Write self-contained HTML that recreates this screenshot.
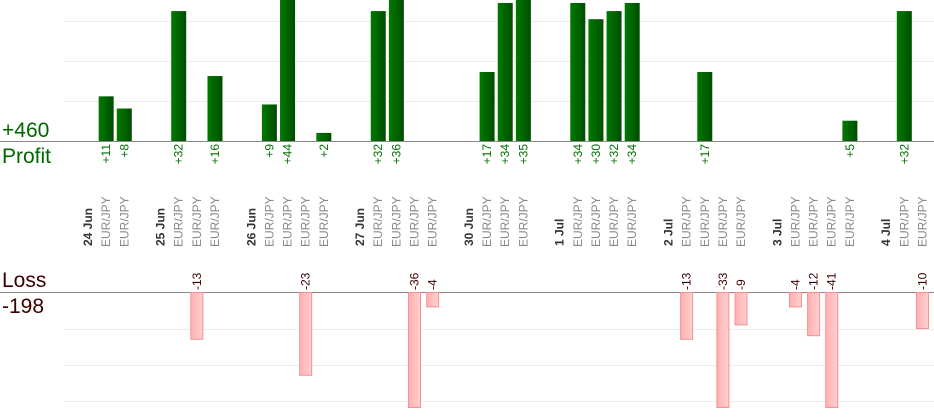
<!DOCTYPE html>
<html><head><meta charset="utf-8">
<style>
html,body{margin:0;padding:0;background:#fff;}
svg{display:block;font-family:"Liberation Sans",sans-serif;}
</style></head>
<body>
<svg id="chart" width="934" height="420" viewBox="0 0 934 420">
<defs>
<linearGradient id="gg" x1="0" x2="1"><stop offset="0" stop-color="#007a00"/><stop offset="1" stop-color="#004d00"/></linearGradient>
<linearGradient id="rg" x1="0" x2="1"><stop offset="0" stop-color="#ffb0b0"/><stop offset="1" stop-color="#ffd0d0"/></linearGradient>
</defs>
<g id="grid"></g>
<line x1="0" y1="141.5" x2="934" y2="141.5" stroke="#888" stroke-width="1"/>
<line x1="0" y1="292.5" x2="934" y2="292.5" stroke="#888" stroke-width="1"/>
<text x="2" y="137" font-size="21" fill="#006600">+460</text>
<text x="2" y="163" font-size="21" fill="#006600">Profit</text>
<text x="2" y="287" font-size="21" fill="#3a0000">Loss</text>
<text x="2" y="313" font-size="21" fill="#3a0000">-198</text>
<g id="marks"></g>
</svg>
<script>
// slot kinds: "d" = date label, "t" = trade, "g" = gap
const slotKinds = ["d","t","t","g","d","t","t","t","g","d","t","t","t","t","g","d","t","t","t","t","g","d","t","t","t","g","d","t","t","t","t","g","d","t","t","t","t","g","d","t","t","t","t","g","d","t","t"];
const dateLabels = ["24 Jun","25 Jun","26 Jun","27 Jun","30 Jun","1 Jul","2 Jul","3 Jul","4 Jul"];
const tradeValues = [11,8, 32,-13,16, 9,44,-23,2, 32,36,-36,-4, 17,34,35, 34,30,32,34, -13,17,-33,-9, -4,-12,-41,5, 32,-10];
const tradeSymbol = "EUR/JPY";

const NS="http://www.w3.org/2000/svg";
const svg=document.getElementById('marks');
const grid=document.getElementById('grid');
const x0=88, slotW=18.14;
const xOf=i=>x0+i*slotW;
const profitBase=141, lossBase=292, profitScale=4.06, lossScale=3.6;
const yProfit=v=>Math.max(0,profitBase-v*profitScale);
const yLoss=v=>Math.min(407,lossBase+v*lossScale);
function mk(tag,attrs){const e=document.createElementNS(NS,tag);for(const k in attrs)e.setAttribute(k,attrs[k]);return e;}
[21,61,101].forEach(y=>{const l=mk('line',{x1:63,x2:934,y1:y+.5,y2:y+.5,stroke:'#ececec'});


grid.appendChild(l);});
[329,365,401].forEach(y=>{const l=mk('line',{x1:63,x2:934,y1:y+.5,y2:y+.5,stroke:'#ececec'});


grid.appendChild(l);});
let di=0, ti=0;
slotKinds.forEach((k,i)=>{
  const cx=xOf(i);
  if(k==='d'){
    const t=mk('text',{x:0,y:0,transform:`translate(${cx+4},246) rotate(-90)`,'font-size':12,'font-weight':'bold',fill:'#333'});
    t.textContent=dateLabels[di++];
    
    
    svg.appendChild(t);
  } else if(k==='t'){
    const v=tradeValues[ti++];
    const s=mk('text',{x:0,y:0,transform:`translate(${cx+4},247) rotate(-90)`,'font-size':12,fill:'#888'});
    s.textContent=tradeSymbol;
    
    
    svg.appendChild(s);
    if(v>0){
      const y=yProfit(v);
      const r=mk('rect',{x:cx-7.5,y:y,width:15,height:profitBase-y,fill:'url(#gg)'});
      
      
      svg.appendChild(r);
      const t=mk('text',{x:0,y:0,transform:`translate(${cx+4},144) rotate(-90)`,'font-size':12,fill:'#007000','text-anchor':'end'});
      t.textContent='+'+v;
      
      
      svg.appendChild(t);
    } else {
      const y=yLoss(-v);
      const r=mk('rect',{x:cx-6,y:lossBase+0.5,width:12,height:y-lossBase,fill:'url(#rg)',stroke:'#f89090','stroke-width':1});
      
      
      svg.appendChild(r);
      const t=mk('text',{x:0,y:0,transform:`translate(${cx+4},290) rotate(-90)`,'font-size':12,fill:'#3a0000'});
      t.textContent=String(v);
      
      
      svg.appendChild(t);
    }
  }
});
</script>
</body></html>
